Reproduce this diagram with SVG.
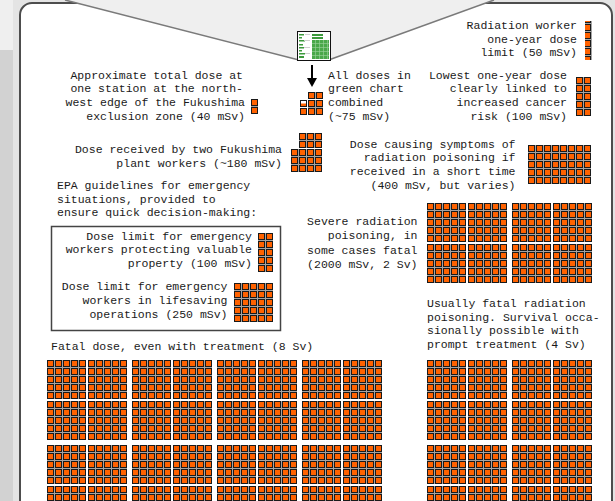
<svg xmlns="http://www.w3.org/2000/svg" xmlns:xlink="http://www.w3.org/1999/xlink" width="615" height="501" viewBox="0 0 615 501">
<style>
.t{font-family:"Liberation Mono","DejaVu Sans Mono",monospace;font-size:11.5px;fill:#1a1a1a}
.r{text-anchor:end}
.sq{fill:url(#sq)}
.ln{stroke:#7a7a7a;stroke-width:1.5;fill:none}
</style>
<defs>
<pattern id="sq" width="8" height="8" patternUnits="userSpaceOnUse">
<rect width="8" height="8" fill="#a4a4a4"/>
<rect x="0.5" y="0.5" width="6" height="6" fill="#ff6200" stroke="#1a1a1a" stroke-width="1"/>
</pattern>
<rect id="g25" class="sq" width="39" height="39"/>
<g id="sup">
<use xlink:href="#g25"/><use xlink:href="#g25" x="41"/>
<use xlink:href="#g25" y="41"/><use xlink:href="#g25" x="41" y="41"/>
</g>
</defs>

<g id="background">
<rect width="615" height="501" fill="#e4e4e4"/>
<rect x="0" y="50" width="13" height="451" fill="#d2d2d2"/>
<rect x="0" y="0" width="13" height="50" fill="#efefef"/>
<rect x="20" y="3" width="592" height="540" rx="12" fill="#ffffff" stroke="#4d4d4d" stroke-width="2"/>
</g>

<g id="zoom-funnel">
<polygon points="65,0 297,59.5 330,59.5 494,0" fill="#efefef"/>
<line class="ln" x1="65" y1="0" x2="297" y2="59.5"/>
<line class="ln" x1="494" y1="0" x2="330" y2="59.5"/>
</g>

<g id="green-chart">
<rect x="297.5" y="31.5" width="33" height="29" fill="#ffffff" stroke="#111" stroke-width="1"/>
<g fill="#3c9a3c">
<rect x="299" y="34" width="5" height="1.5"/><rect x="299" y="37" width="3" height="1.5"/>
<rect x="299" y="40" width="6" height="1.5"/><rect x="299" y="44" width="4" height="1.5"/>
<rect x="299" y="47" width="5" height="1.5"/><rect x="299" y="50" width="3" height="1.5"/>
<rect x="299" y="53" width="6" height="1.5"/><rect x="299" y="56" width="5" height="2"/>
<rect x="312" y="34" width="11" height="2"/><rect x="312" y="37" width="11" height="2"/>
<rect x="312" y="40" width="17" height="19" fill="#4aa84a"/>
</g>
<g fill="#cfcfcf">
<rect x="305" y="34" width="5" height="1"/><rect x="304" y="40" width="6" height="1"/>
<rect x="304" y="47" width="6" height="1"/><rect x="305" y="53" width="5" height="1"/>
</g>
<g stroke="#9ed49e" stroke-width="0.6">
<path d="M312 43.5H329M312 47.5H329M312 51.5H329M312 55.5H329M315.5 40V59M319.5 40V59M323.5 40V59M327.5 40V59"/>
</g>
</g>

<g id="combined">
<path d="M312 65V80" stroke="#000" stroke-width="2"/>
<polygon points="307,78 317,78 312,87" fill="#000"/>
<g transform="translate(300,92)">
<rect x="8" y="0" width="15" height="7" class="sq"/>
<rect x="8" y="8" width="15" height="15" class="sq"/>
<rect x="0" y="16" width="7" height="7" class="sq"/>
<rect x="0.5" y="8.5" width="6" height="6" fill="#fff" stroke="#1a1a1a"/>
<rect x="1" y="11.5" width="5" height="2.5" fill="#ff6200"/>
</g>
<text class="t" x="328" y="78.5">All doses in</text>
<text class="t" x="328" y="92.2">green chart</text>
<text class="t" x="328" y="105.9">combined</text>
<text class="t" x="328" y="119.6">(~75 mSv)</text>
</g>

<g id="worker-limit">
<text class="t r" x="577" y="28.5">Radiation worker</text>
<text class="t r" x="577" y="42.5">one-year dose</text>
<text class="t r" x="577" y="56">limit (50 mSv)</text>
<rect x="585" y="21" width="7" height="39" class="sq"/>
</g>

<g id="cancer-risk">
<text class="t r" x="567" y="78.5">Lowest one-year dose</text>
<text class="t r" x="567" y="92.2">clearly linked to</text>
<text class="t r" x="567" y="105.9">increased cancer</text>
<text class="t r" x="567" y="119.6">risk (100 mSv)</text>
<g transform="translate(576,77)"><rect width="15" height="39" class="sq"/></g>
</g>

<g id="exclusion-zone">
<text class="t r" x="243" y="78.5">Approximate total dose at</text>
<text class="t r" x="243" y="92.2">one station at the north-</text>
<text class="t r" x="245" y="105.9">west edge of the Fukushima</text>
<text class="t r" x="245" y="119.6">exclusion zone (40 mSv)</text>
<g transform="translate(251,99)"><rect width="7" height="15" class="sq"/></g>
</g>

<g id="plant-workers">
<text class="t r" x="282" y="152.5">Dose received by two Fukushima</text>
<text class="t r" x="282" y="166.5">plant workers (~180 mSv)</text>
<g transform="translate(291,133)">
<rect x="8" y="0" width="23" height="15" class="sq"/>
<rect x="0" y="16" width="31" height="23" class="sq"/>
</g>
</g>

<g id="symptoms">
<text class="t r" x="515.5" y="147.5">Dose causing symptoms of</text>
<text class="t r" x="515.5" y="161.2">radiation poisoning if</text>
<text class="t r" x="515.5" y="174.9">received in a short time</text>
<text class="t r" x="515.5" y="188.6">(400 mSv, but varies)</text>
<g transform="translate(528,145)"><rect width="63" height="39" class="sq"/></g>
</g>

<g id="epa">
<text class="t" x="57" y="189">EPA guidelines for emergency</text>
<text class="t" x="57" y="202.7">situations, provided to</text>
<text class="t" x="57" y="216.4">ensure quick decision-making:</text>
<rect x="51.5" y="226.5" width="229" height="104" fill="none" stroke="#444" stroke-width="1.5"/>
</g>

<g id="epa-property">
<text class="t r" x="252" y="239.5">Dose limit for emergency</text>
<text class="t r" x="252" y="253.2">workers protecting valuable</text>
<text class="t r" x="252" y="267">property (100 mSv)</text>
<g transform="translate(258,233)"><rect width="15" height="39" class="sq"/></g>
</g>

<g id="epa-lifesaving">
<text class="t r" x="227.5" y="290">Dose limit for emergency</text>
<text class="t r" x="227.5" y="304">workers in lifesaving</text>
<text class="t r" x="227.5" y="317.7">operations (250 mSv)</text>
<use xlink:href="#g25" x="234" y="283"/>
</g>

<g id="severe">
<text class="t r" x="417.5" y="225">Severe radiation</text>
<text class="t r" x="417.5" y="239">poisoning, in</text>
<text class="t r" x="417.5" y="253.5">some cases fatal</text>
<text class="t r" x="417.5" y="267.5">(2000 mSv, 2 Sv)</text>
<use xlink:href="#sup" x="427" y="203"/>
<use xlink:href="#sup" x="512" y="203"/>
</g>

<g id="usually-fatal">
<text class="t" x="427" y="307">Usually fatal radiation</text>
<text class="t" x="427" y="320.7">poisoning. Survival occa-</text>
<text class="t" x="427" y="334.4">sionally possible with</text>
<text class="t" x="427" y="348.1">prompt treatment (4 Sv)</text>
<use xlink:href="#sup" x="427" y="360"/>
<use xlink:href="#sup" x="512" y="360"/>
<use xlink:href="#sup" x="427" y="445"/>
<use xlink:href="#sup" x="512" y="445"/>
</g>

<g id="fatal">
<text class="t" x="51" y="350">Fatal dose, even with treatment (8 Sv)</text>
<use xlink:href="#sup" x="47" y="360"/>
<use xlink:href="#sup" x="132" y="360"/>
<use xlink:href="#sup" x="217" y="360"/>
<use xlink:href="#sup" x="302" y="360"/>
<use xlink:href="#sup" x="47" y="445"/>
<use xlink:href="#sup" x="132" y="445"/>
<use xlink:href="#sup" x="217" y="445"/>
<use xlink:href="#sup" x="302" y="445"/>
</g>

<g id="connectors"></g>
</svg>
